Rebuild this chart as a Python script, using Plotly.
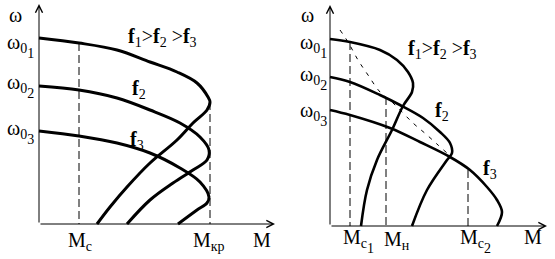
import plotly.graph_objects as go

# ---- Left panel: frequency control, curves f1, f2, f3 (torque M, speed omega) ----
L_f1_M = [0, 40, 78, 111, 138, 158, 169, 171, 168, 154, 138, 111, 88, 71, 58]
L_f1_w = [186, 181, 174, 162, 152, 141, 127, 122, 114, 101, 84, 61, 37, 17, 0]
L_f2_M = [0, 40, 78, 111, 141, 161, 170, 168, 154, 134, 111, 88]
L_f2_w = [138, 134, 126, 114, 101, 87, 74, 64, 54, 41, 24, 0]
L_f3_M = [0, 40, 78, 111, 141, 161, 170, 168, 158, 139]
L_f3_w = [93, 88, 81, 71, 56, 42, 27, 21, 14, 0]
L_Mc = 40
L_Mc_top = 181
L_Mkr = 171
L_Mkr_top = 122
L_axis_x_end = 236
L_axis_y_end = 220

# ---- Right panel ----
R_f1_M = [0, 20, 50, 67, 78, 83, 82, 73, 62, 47, 37, 31]
R_f1_w = [187, 184, 176, 166, 154, 143, 134, 120, 96, 66, 36, 0]
R_f2_M = [0, 20, 50, 70, 93, 110, 120, 122, 117, 97, 82]
R_f2_w = [149, 144, 131, 121, 108, 94, 83, 73, 66, 36, 0]
R_f3_M = [0, 20, 60, 90, 120, 140, 157, 167, 172, 167]
R_f3_w = [116, 111, 98, 84, 69, 56, 39, 26, 14, 0]
R_diag_M = [10, 18, 28, 38, 50, 63, 83, 97, 108, 117]
R_diag_w = [196, 184, 166, 151, 134, 123, 103, 91, 81, 73]
R_Mc1, R_Mc1_top = 20, 184
R_Mn, R_Mn_top = 56, 129
R_Mc2, R_Mc2_top = 138, 56
R_axis_x_end = 217
R_axis_y_end = 221

FONT = "Liberation Serif, Times New Roman, serif"
FS = 20
SUB = 14

fig = go.Figure()

def curve(M, w, xa, ya, width):
    fig.add_trace(go.Scatter(x=M, y=w, mode="lines", xaxis=xa, yaxis=ya,
                             line=dict(color="black", width=width, shape="spline", smoothing=1.0),
                             hoverinfo="skip", showlegend=False))

def dashed(M, w, xa, ya, dash="8px,4px"):
    fig.add_trace(go.Scatter(x=M, y=w, mode="lines", xaxis=xa, yaxis=ya,
                             line=dict(color="black", width=1, dash=dash, shape="spline"),
                             hoverinfo="skip", showlegend=False))

# left
for M, w in [(L_f1_M, L_f1_w), (L_f2_M, L_f2_w), (L_f3_M, L_f3_w)]:
    curve(M, w, "x", "y", 3)
dashed([L_Mc, L_Mc], [L_Mc_top, 0], "x", "y")
dashed([L_Mkr, L_Mkr], [L_Mkr_top, 0], "x", "y")

# right
for M, w in [(R_f1_M, R_f1_w), (R_f2_M, R_f2_w), (R_f3_M, R_f3_w)]:
    curve(M, w, "x2", "y2", 2.6)
dashed(R_diag_M, R_diag_w, "x2", "y2", dash="4px,6px")
for m, top in [(R_Mc1, R_Mc1_top), (R_Mn, R_Mn_top), (R_Mc2, R_Mc2_top)]:
    dashed([m, m], [top, 0], "x2", "y2")

ann = []

def arrow(xe, ye, xs, ys, xr, yr):
    ann.append(dict(x=xe, y=ye, ax=xs, ay=ys, xref=xr, yref=yr, axref=xr, ayref=yr,
                    showarrow=True, arrowhead=5, arrowsize=1.4, arrowwidth=1, arrowcolor="black",
                    text=""))

arrow(L_axis_x_end, 0, 0, 0, "x", "y")
arrow(0, L_axis_y_end, 0, 0, "x", "y")
arrow(R_axis_x_end, 0, 0, 0, "x2", "y2")
arrow(0, R_axis_y_end, 0, 0, "x2", "y2")

def label(txt, x, y, xr, yr, xanchor="center", yanchor="middle"):
    ann.append(dict(text=txt, x=x, y=y, xref=xr, yref=yr, showarrow=False,
                    xanchor=xanchor, yanchor=yanchor,
                    font=dict(family=FONT, size=FS, color="black")))

def s(t):
    return f"<span style='font-size:{SUB}px'>{t}</span>"

def sub1(t):
    return f"<sub>{s(t)}</sub>"

def sub2(a, b):
    return f"<sub>{s(a)}<sub><sub>{s(b)}</sub></sub></sub>"

W0 = ["ω" + sub2("0", "1"), "ω" + sub2("0", "2"), "ω" + sub2("0", "3")]
FRATIO = "<b>f</b>" + sub1("1") + "&gt;<b>f</b>" + sub1("2") + " &gt;<b>f</b>" + sub1("3")

# left labels
label("ω", -24, 209, "x", "y")
for t, wv in zip(W0, [178.5, 138.5, 92]):
    label(t, -3, wv, "x", "y", xanchor="right")
label(FRATIO, 123, 187, "x", "y")
label("<b>f</b>" + sub1("2"), 100, 135, "x", "y")
label("<b>f</b>" + sub1("3"), 97.5, 84, "x", "y")
label("M" + sub1("c"), 41, -17, "x", "y")
label("M" + sub1("кр"), 169.5, -17, "x", "y")
label("M", 222.5, -16, "x", "y")

# right labels
label("ω", -23, 211, "x2", "y2")
for t, wv in zip(W0, [180.5, 148, 112]):
    label(t, -1, wv, "x2", "y2", xanchor="right")
label(FRATIO, 112, 177, "x2", "y2")
label("<b>f</b>" + sub1("2"), 111.5, 115, "x2", "y2")
label("<b>f</b>" + sub1("3"), 159.5, 57, "x2", "y2")
label("M" + sub2("c", "1"), 28.5, -15, "x2", "y2")
label("M" + sub1("н"), 66.5, -14, "x2", "y2")
label("M" + sub2("c", "2"), 145, -15, "x2", "y2")
label("M", 202.5, -11, "x2", "y2")

fig.update_layout(
    width=555, height=259, autosize=False,
    margin=dict(l=0, r=0, t=0, b=0),
    paper_bgcolor="white", plot_bgcolor="white",
    showlegend=False,
    xaxis=dict(domain=[0, 280/555], range=[-39, 241], visible=False),
    yaxis=dict(domain=[0, 1], range=[-35, 224], visible=False),
    xaxis2=dict(domain=[280/555, 1], range=[-50, 225], visible=False),
    yaxis2=dict(domain=[0, 1], range=[-33, 226], visible=False, anchor="x2"),
    annotations=ann,
)

fig.write_html("out.html")
